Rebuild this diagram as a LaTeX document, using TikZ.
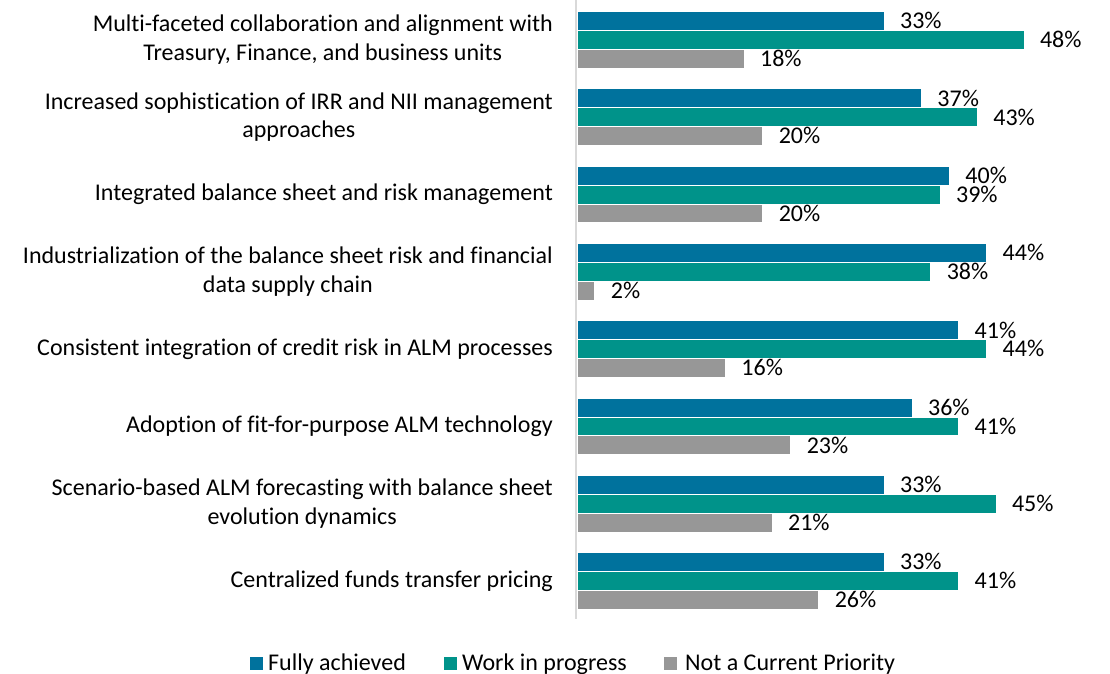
\documentclass[tikz,border=0pt]{standalone}
\usepackage{fontspec}
\setmainfont{Carlito}[Ligatures=NoCommon]
\definecolor{cblue}{RGB}{0,114,157}
\definecolor{cteal}{RGB}{0,147,138}
\definecolor{cgray}{RGB}{151,151,151}
\definecolor{caxis}{RGB}{217,217,217}
\tikzset{
  txt/.style={inner sep=0pt, font=\fontsize{24}{28.5}\selectfont, text=black},
  cat/.style={txt, align=center, anchor=east},
  val/.style={txt, anchor=west},
  barb/.style={fill=cblue, draw=white, line width=0.4pt},
  bart/.style={fill=cteal, draw=white, line width=0.4pt},
  barg/.style={fill=cgray, draw=white, line width=0.4pt},
  axisline/.style={draw=caxis, line width=1.5pt},
}
\begin{document}
\begin{tikzpicture}[x=1pt,y=-1pt]
\useasboundingbox (0,0) rectangle (1110,673);
\def\s{9.33}
\coordinate (axtop) at (576,0);
\coordinate (axbot) at (576,619);
\draw[axisline] (axtop) -- (axbot);
\foreach \i/\lab/\a/\b/\c in {
 0/{Multi-faceted collaboration and alignment with\\Treasury, Finance, and business units}/33/48/18,
 1/{Increased sophistication of IRR and NII management\\approaches}/37/43/20,
 2/{Integrated balance sheet and risk management}/40/39/20,
 3/{Industrialization of the balance sheet risk and financial\\data supply chain}/44/38/2,
 4/{Consistent integration of credit risk in ALM processes}/41/44/16,
 5/{Adoption of fit-for-purpose ALM technology}/36/41/23,
 6/{Scenario-based ALM forecasting with balance sheet\\evolution dynamics}/33/45/21,
 7/{Centralized funds transfer pricing}/33/41/26}{
  \pgfmathsetmacro\t{11.3+77.3*\i}
  \path[barb] (577,\t) rectangle ({576+\a*\s},\t+18.9);
  \path[bart] (577,\t+18.9) rectangle ({576+\b*\s},\t+37.8);
  \path[barg] (577,\t+37.8) rectangle ({576+\c*\s},\t+56.7);
  \node[val] (va\i) at ({576+\a*\s+16},\t+9.45) {\a\%};
  \node[val] (vb\i) at ({576+\b*\s+16},\t+28.35) {\b\%};
  \node[val] (vc\i) at ({576+\c*\s+16},\t+47.25) {\c\%};
  \node[cat] (c\i) at (553,\t+28.35) {\lab};
}
% legend
\fill[cblue] (250,657) rectangle (263,670);
\node[txt, anchor=base west] (l1) at (268,670) {Fully achieved};
\fill[cteal] (444,657) rectangle (457,670);
\node[txt, anchor=base west] (l2) at (462,670) {Work in progress};
\fill[cgray] (664,657) rectangle (677,670);
\node[txt, anchor=base west] (l3) at (685,670) {Not a Current Priority};
\end{tikzpicture}
\end{document}
